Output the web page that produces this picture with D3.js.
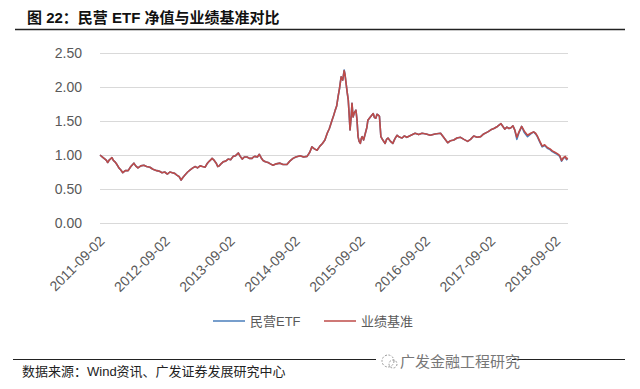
<!DOCTYPE html>
<html>
<head>
<meta charset="utf-8">
<script src="https://cdn.jsdelivr.net/npm/d3@7"></script>
<style>
  body { margin: 0; background: #fff; }
  svg text { font-family: "Liberation Sans", "Noto Sans CJK SC", sans-serif; }
</style>
</head>
<body>
<div id="chart"></div>
<script>
const dates = [
  "2011-09-02","2011-09-16","2011-09-30","2011-10-08","2011-10-15","2011-10-25","2011-11-08","2011-11-16","2011-11-25","2011-12-06",
  "2011-12-17","2011-12-28","2012-01-08","2012-01-22","2012-02-07","2012-02-22","2012-03-10","2012-03-20","2012-04-02","2012-04-18",
  "2012-05-05","2012-05-20","2012-06-08","2012-06-25","2012-07-17","2012-08-01","2012-08-15","2012-08-30","2012-09-14","2012-09-28",
  "2012-10-12","2012-10-25","2012-11-08","2012-11-20","2012-11-30","2012-12-10","2012-12-23","2013-01-06","2013-01-20","2013-02-04",
  "2013-02-18","2013-03-02","2013-03-17","2013-03-30","2013-04-14","2013-04-22","2013-04-30","2013-05-12","2013-05-23","2013-06-04",
  "2013-06-15","2013-06-24","2013-07-02","2013-07-12","2013-07-24","2013-08-07","2013-08-21","2013-09-04","2013-09-18","2013-10-02",
  "2013-10-17","2013-10-28","2013-11-08","2013-11-20","2013-12-05","2013-12-18","2014-01-02","2014-01-10","2014-01-19","2014-02-01",
  "2014-02-12","2014-02-22","2014-03-05","2014-03-18","2014-04-02","2014-04-15","2014-04-30","2014-05-18","2014-06-08","2014-06-25",
  "2014-07-17","2014-08-02","2014-08-20","2014-09-05","2014-09-29","2014-10-18","2014-11-07","2014-11-22","2014-12-04","2014-12-18",
  "2015-01-02","2015-01-18","2015-02-01","2015-02-15","2015-02-28","2015-03-12","2015-03-27","2015-04-05","2015-04-14","2015-04-22",
  "2015-04-30","2015-05-08","2015-05-17","2015-05-26","2015-06-03","2015-06-08","2015-06-14","2015-06-20","2015-06-26","2015-07-01",
  "2015-07-06","2015-07-12","2015-07-17","2015-07-23","2015-07-30","2015-08-08","2015-08-14","2015-08-20","2015-08-26","2015-09-02",
  "2015-09-07","2015-09-12","2015-09-20","2015-09-30","2015-10-08","2015-10-14","2015-10-28","2015-11-13","2015-11-20","2015-11-28",
  "2015-12-04","2015-12-10","2015-12-18","2015-12-26","2016-01-06","2016-01-19","2016-01-27","2016-02-04","2016-02-18","2016-03-02",
  "2016-03-14","2016-03-26","2016-04-10","2016-04-23","2016-05-06","2016-05-20","2016-06-12","2016-07-05","2016-07-25","2016-08-13",
  "2016-09-05","2016-09-28","2016-10-25","2016-11-25","2016-12-12","2017-01-04","2017-01-20","2017-02-07","2017-02-25","2017-03-17",
  "2017-04-05","2017-04-26","2017-05-12","2017-05-30","2017-06-18","2017-07-08","2017-07-25","2017-08-17","2017-09-03","2017-09-20",
  "2017-10-10","2017-10-30","2017-11-10","2017-11-20","2017-12-02","2017-12-14","2017-12-25","2018-01-05","2018-01-15","2018-01-27",
  "2018-02-08","2018-02-23","2018-03-10","2018-03-28","2018-04-15","2018-05-01","2018-05-12","2018-05-22","2018-06-05","2018-06-18",
  "2018-07-02","2018-07-17","2018-08-01","2018-08-14","2018-08-28","2018-09-11","2018-09-25","2018-10-05","2018-10-15","2018-10-26",
  "2018-11-02","2018-11-08"
];
const etfValues = [
  1.00,0.97,0.94,0.92,0.89,0.93,0.96,0.92,0.90,0.86,
  0.81,0.78,0.74,0.77,0.77,0.83,0.88,0.84,0.81,0.84,
  0.85,0.83,0.82,0.79,0.77,0.76,0.74,0.75,0.72,0.75,
  0.74,0.73,0.70,0.68,0.63,0.67,0.71,0.75,0.78,0.81,
  0.83,0.81,0.84,0.83,0.82,0.86,0.89,0.92,0.95,0.92,
  0.88,0.83,0.84,0.87,0.90,0.91,0.94,0.93,0.98,0.99,
  1.03,0.98,0.94,0.97,0.97,0.95,0.95,0.97,0.98,0.97,
  1.01,0.96,0.92,0.90,0.89,0.87,0.85,0.87,0.88,0.86,
  0.86,0.91,0.95,0.97,0.99,0.97,0.98,1.04,1.12,1.09,
  1.07,1.13,1.17,1.22,1.32,1.39,1.51,1.58,1.66,1.72,
  1.86,1.98,2.15,2.10,2.25,2.18,2.05,1.92,1.81,1.60,
  1.37,1.55,1.76,1.56,1.62,1.66,1.52,1.27,1.20,1.17,
  1.24,1.27,1.22,1.32,1.40,1.51,1.56,1.61,1.55,1.54,
  1.60,1.59,1.57,1.27,1.22,1.17,1.23,1.25,1.20,1.17,
  1.24,1.29,1.26,1.25,1.28,1.26,1.29,1.32,1.30,1.32,
  1.31,1.29,1.31,1.32,1.26,1.18,1.21,1.22,1.25,1.26,
  1.23,1.20,1.23,1.28,1.26,1.27,1.31,1.34,1.37,1.39,
  1.42,1.46,1.42,1.38,1.41,1.39,1.40,1.43,1.37,1.23,
  1.33,1.42,1.33,1.27,1.31,1.34,1.31,1.27,1.19,1.12,
  1.14,1.10,1.08,1.05,1.03,1.01,0.98,0.91,0.95,0.97,
  0.93,0.95
];
const benchValues = [
  1.00,0.97,0.94,0.92,0.89,0.93,0.96,0.92,0.90,0.86,
  0.81,0.78,0.74,0.77,0.77,0.83,0.88,0.84,0.81,0.84,
  0.85,0.83,0.82,0.79,0.77,0.76,0.74,0.75,0.72,0.75,
  0.74,0.73,0.70,0.68,0.63,0.67,0.71,0.75,0.78,0.81,
  0.83,0.81,0.84,0.83,0.82,0.86,0.89,0.92,0.95,0.92,
  0.88,0.83,0.84,0.87,0.90,0.91,0.94,0.93,0.98,0.99,
  1.03,0.98,0.94,0.97,0.97,0.95,0.95,0.97,0.98,0.97,
  1.01,0.96,0.92,0.90,0.89,0.87,0.85,0.87,0.88,0.86,
  0.86,0.91,0.95,0.97,0.99,0.97,0.98,1.04,1.12,1.09,
  1.07,1.13,1.17,1.22,1.32,1.39,1.51,1.58,1.66,1.72,
  1.86,1.98,2.15,2.10,2.24,2.18,2.05,1.92,1.81,1.60,
  1.37,1.55,1.76,1.56,1.62,1.66,1.52,1.27,1.20,1.17,
  1.24,1.27,1.22,1.32,1.40,1.51,1.56,1.61,1.55,1.54,
  1.60,1.59,1.57,1.27,1.22,1.17,1.23,1.25,1.20,1.17,
  1.24,1.29,1.26,1.25,1.28,1.26,1.29,1.32,1.30,1.32,
  1.31,1.29,1.31,1.32,1.26,1.18,1.21,1.22,1.25,1.26,
  1.23,1.20,1.23,1.28,1.26,1.27,1.31,1.34,1.37,1.39,
  1.42,1.46,1.42,1.38,1.41,1.39,1.40,1.43,1.37,1.26,
  1.34,1.42,1.35,1.29,1.32,1.34,1.32,1.28,1.20,1.13,
  1.15,1.11,1.09,1.06,1.04,1.02,0.99,0.92,0.96,0.98,
  0.94,0.96
];
const yTicks = [0, 0.5, 1.0, 1.5, 2.0, 2.5];
const xTickLabels = ["2011-09-02","2012-09-02","2013-09-02","2014-09-02",
  "2015-09-02","2016-09-02","2017-09-02","2018-09-02"];
const seriesNames = ["民营ETF", "业绩基准"];
const colors = ["#4a7ebb", "#be4b48"];

const width = 640, height = 389;
const margin = { top: 53, left: 100, bottom: 166, right: 72 };
const iwidth = width - margin.left - margin.right;
const iheight = height - margin.top - margin.bottom;

const parse = d3.timeParse("%Y-%m-%d");
const etf = dates.map((d, i) => ({ date: parse(d), value: etfValues[i] }));
const bench = dates.map((d, i) => ({ date: parse(d), value: benchValues[i] }));

const svg = d3.select("#chart").append("svg")
  .attr("width", width).attr("height", height);

// title
svg.append("text").attr("x", 27).attr("y", 23)
  .style("font-size", "15px").style("font-weight", "bold").attr("fill", "#111")
  .text("图 22：民营 ETF 净值与业绩基准对比");
svg.append("line").attr("x1", 15).attr("x2", 625).attr("y1", 29.5).attr("y2", 29.5)
  .attr("stroke", "#222").attr("stroke-width", 1.5);

const g = svg.append("g").attr("transform", `translate(${margin.left},${margin.top})`);

const x = d3.scaleTime()
  .domain([parse("2011-09-02"), parse("2018-11-10")])
  .range([0, iwidth]);
const y = d3.scaleLinear().domain([0, 2.5]).range([iheight, 0]);

g.append("g").call(d3.axisLeft(y).tickValues(yTicks).tickFormat(d3.format(".2f"))
    .tickSize(-iwidth).tickPadding(18))
  .call(a => a.select(".domain").remove())
  .call(a => a.selectAll("line").attr("stroke", "#d9d9d9"))
  .call(a => a.selectAll("text").attr("fill", "#595959").style("font-size", "14px"));

g.append("g").attr("transform", `translate(0,${iheight})`)
  .call(d3.axisBottom(x).tickValues(xTickLabels.map(parse))
    .tickFormat(d3.timeFormat("%Y-%m-%d")).tickSize(0))
  .call(a => a.select(".domain").remove())
  .call(a => a.selectAll("text")
    .attr("fill", "#595959").style("font-size", "14px")
    .attr("text-anchor", "end").attr("dy", null).attr("y", 0)
    .attr("transform", "translate(5,19) rotate(-45)"));

const line = d3.line().x(d => x(d.date)).y(d => y(d.value));
[etf, bench].forEach((s, i) => {
  g.append("path").datum(s).attr("d", line).attr("fill", "none")
    .attr("stroke", colors[i]).attr("stroke-width", 1.6)
    .attr("stroke-linejoin", "round");
});

// legend
const legend = svg.append("g").attr("transform", "translate(213,321)");
seriesNames.forEach((n, i) => {
  const lg = legend.append("g").attr("transform", `translate(${i * 111},0)`);
  lg.append("line").attr("x1", 0).attr("x2", 32).attr("stroke", colors[i]).attr("stroke-width", 1.5);
  lg.append("text").attr("x", 37).attr("y", 5).attr("fill", "#595959")
    .style("font-size", "13px").text(n);
});

// footer
svg.append("line").attr("x1", 13).attr("x2", 625).attr("y1", 359.5).attr("y2", 359.5)
  .attr("stroke", "#222").attr("stroke-width", 1.2);
svg.append("text").attr("x", 22).attr("y", 376).attr("fill", "#222")
  .style("font-size", "13px").text("数据来源：Wind资讯、广发证券发展研究中心");

// watermark
const wm = svg.append("g").attr("transform", "translate(388,361)");
wm.append("rect").attr("x", -12).attr("y", -10).attr("width", 136).attr("height", 20).attr("fill", "#fff");
wm.append("circle").attr("r", 6).attr("fill", "none").attr("stroke", "#999").attr("stroke-dasharray", "2,1.5");
wm.append("circle").attr("cx", 5).attr("cy", 3).attr("r", 4).attr("fill", "none").attr("stroke", "#999").attr("stroke-dasharray", "2,1.5");
wm.append("text").attr("x", 12).attr("y", 6).attr("fill", "#777")
  .style("font-size", "15px").text("广发金融工程研究");
</script>
</body>
</html>
